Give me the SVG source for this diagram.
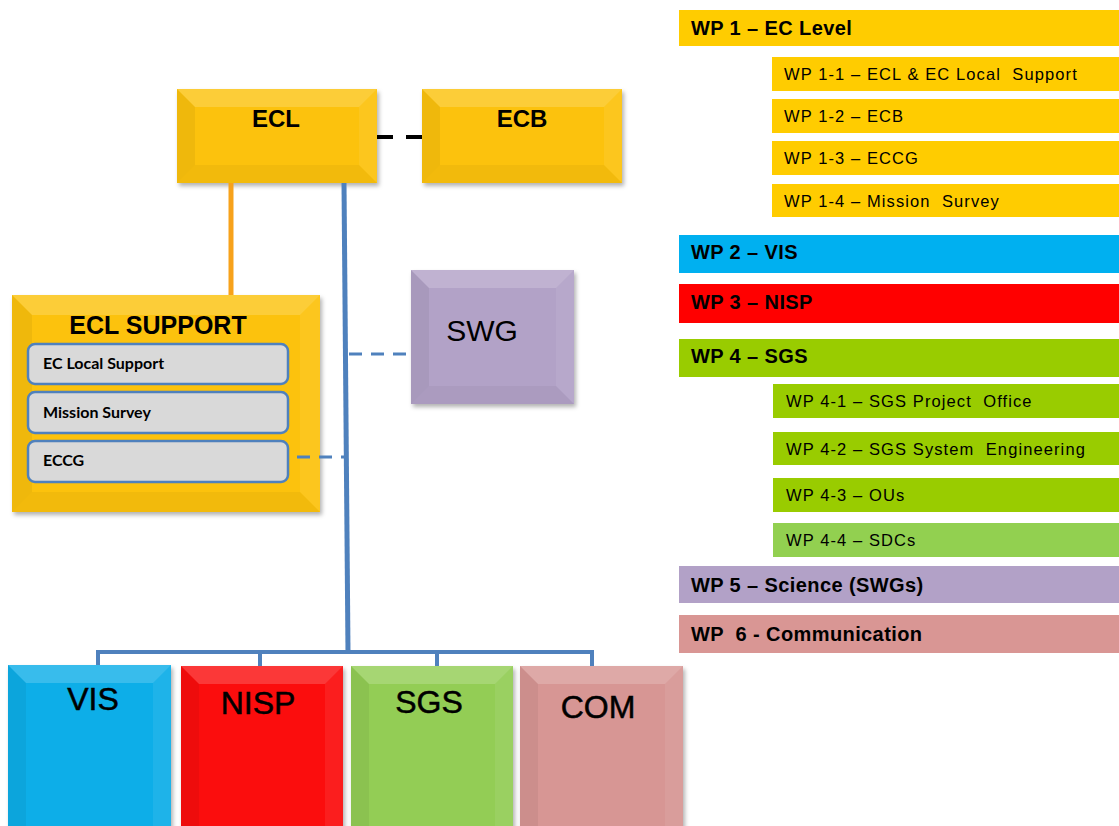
<svg xmlns="http://www.w3.org/2000/svg" width="1119" height="826" viewBox="0 0 1119 826">
  <defs>
    <filter id="shadow" x="-10%" y="-10%" width="125%" height="125%">
      <feDropShadow dx="2" dy="3" stdDeviation="2" flood-color="#000" flood-opacity="0.3"/>
    </filter>
    <style>
      .bt { fill: #fff; fill-opacity: 0.18; }
      .bl { fill: #000; fill-opacity: 0.05; }
      .br { fill: #fff; fill-opacity: 0.07; }
      .bb { fill: #000; fill-opacity: 0.04; }
      .base { filter: url(#shadow); }
      .lbl { font-family: "Liberation Sans", Arial, sans-serif; fill: #000; text-anchor: middle; }
      .big { font-size: 32px; stroke: #000; stroke-width: 0.5px; }
      .item { fill: #D9D9D9; stroke: #4F81BD; stroke-width: 2.5; }
      .itemtxt { font-family: Lato, "Liberation Sans", sans-serif; font-weight: bold; font-size: 16px; fill: #000; }
      .wp { font-family: "Liberation Sans", Arial, sans-serif; font-weight: bold; font-size: 20px; letter-spacing: 0.4px; fill: #000; }
      .wps { font-family: "Liberation Sans", Arial, sans-serif; font-size: 16.5px; letter-spacing: 1.1px; fill: #000; }
      .blue { stroke: #4F81BD; fill: none; }
    </style>
  </defs>
  <rect width="1119" height="826" fill="#fff"/>

  <!-- ECL -->
  <g id="ecl">
    <rect class="base" x="177" y="89" width="200" height="94" fill="#FCC20B"/>
    <polygon class="bt" points="177,89 377,89 359,107 195,107"/>
    <polygon class="bl" points="177,89 195,107 195,165 177,183"/>
    <polygon class="br" points="377,89 377,183 359,165 359,107"/>
    <polygon class="bb" points="177,183 195,165 359,165 377,183"/>
    <text class="lbl" x="276" y="127" font-size="24" font-weight="bold">ECL</text>
  </g>

  <!-- ECB -->
  <g id="ecb">
    <rect class="base" x="422" y="89" width="200" height="94" fill="#FCC20B"/>
    <polygon class="bt" points="422,89 622,89 604,107 440,107"/>
    <polygon class="bl" points="422,89 440,107 440,165 422,183"/>
    <polygon class="br" points="622,89 622,183 604,165 604,107"/>
    <polygon class="bb" points="422,183 440,165 604,165 622,183"/>
    <text class="lbl" x="522" y="127" font-size="24" font-weight="bold">ECB</text>
  </g>

  <!-- ECL SUPPORT -->
  <g id="ecl-support">
    <rect class="base" x="12" y="295" width="308" height="217" fill="#FCC20B"/>
    <polygon class="bt" points="12,295 320,295 300,315 32,315"/>
    <polygon class="bl" points="12,295 32,315 32,492 12,512"/>
    <polygon class="br" points="320,295 320,512 300,492 300,315"/>
    <polygon class="bb" points="12,512 32,492 300,492 320,512"/>
    <text class="lbl" x="158" y="334" font-size="25" font-weight="bold">ECL SUPPORT</text>
    <rect class="item" x="28" y="344" width="260" height="40" rx="7"/>
    <text class="itemtxt" x="43" y="369">EC Local Support</text>
    <rect class="item" x="28" y="392" width="260" height="41" rx="7"/>
    <text class="itemtxt" x="43" y="418">Mission Survey</text>
    <rect class="item" x="28" y="441" width="260" height="41" rx="7"/>
    <text class="itemtxt" x="43" y="466">ECCG</text>
  </g>

  <!-- SWG -->
  <g id="swg">
    <rect class="base" x="411" y="270" width="163" height="134" fill="#B2A2C7"/>
    <polygon class="bt" points="411,270 574,270 556,288 429,288"/>
    <polygon class="bl" points="411,270 429,288 429,386 411,404"/>
    <polygon class="br" points="574,270 574,404 556,386 556,288"/>
    <polygon class="bb" points="411,404 429,386 556,386 574,404"/>
    <text class="lbl" x="482" y="341" font-size="30">SWG</text>
  </g>

  <!-- VIS -->
  <g id="vis">
    <rect class="base" x="8" y="665" width="163" height="175" fill="#0AAEE8"/>
    <polygon class="bt" points="8,665 171,665 153,683 26,683"/>
    <polygon class="bl" points="8,665 26,683 26,826 8,826"/>
    <polygon class="br" points="171,665 171,826 153,826 153,683"/>
    <text class="lbl big" x="93" y="710">VIS</text>
  </g>

  <!-- NISP -->
  <g id="nisp">
    <rect class="base" x="181" y="666" width="162" height="175" fill="#FB0A0A"/>
    <polygon class="bt" points="181,666 343,666 325,684 199,684"/>
    <polygon class="bl" points="181,666 199,684 199,826 181,826"/>
    <polygon class="br" points="343,666 343,826 325,826 325,684"/>
    <text class="lbl big" x="258" y="714">NISP</text>
  </g>

  <!-- SGS -->
  <g id="sgs">
    <rect class="base" x="351" y="666" width="162" height="175" fill="#93CD55"/>
    <polygon class="bt" points="351,666 513,666 495,684 369,684"/>
    <polygon class="bl" points="351,666 369,684 369,826 351,826"/>
    <polygon class="br" points="513,666 513,826 495,826 495,684"/>
    <text class="lbl big" x="429" y="713">SGS</text>
  </g>

  <!-- COM -->
  <g id="com">
    <rect class="base" x="520" y="666" width="163" height="175" fill="#D79694"/>
    <polygon class="bt" points="520,666 683,666 665,684 538,684"/>
    <polygon class="bl" points="520,666 538,684 538,826 520,826"/>
    <polygon class="br" points="683,666 683,826 665,826 665,684"/>
    <text class="lbl big" x="598" y="718">COM</text>
  </g>

  <!-- connectors, drawn over the boxes -->
  <g id="connectors">
    <line x1="231" y1="183" x2="231" y2="295" stroke="#F7A21B" stroke-width="5"/>
    <line class="blue" x1="344" y1="183" x2="348" y2="652" stroke-width="5"/>
    <path class="blue" d="M98,665 V652 H592 V666 M260,652 V666 M437,652 V666" stroke-width="4"/>
    <line class="blue" x1="349" y1="354" x2="411" y2="354" stroke-width="3" stroke-dasharray="13 9"/>
    <line class="blue" x1="297" y1="457" x2="345" y2="457" stroke-width="3" stroke-dasharray="13 9"/>
    <line x1="377" y1="137" x2="422" y2="137" stroke="#000" stroke-width="4" stroke-dasharray="16 13"/>
  </g>

  <!-- work package list -->
  <g id="wp1">
    <rect x="679" y="10" width="440" height="36" fill="#FFCC00"/>
    <text class="wp" x="691" y="35">WP 1 – EC Level</text>
  </g>
  <g id="wp1-1">
    <rect x="772" y="57" width="347" height="34" fill="#FFCC00"/>
    <text class="wps" x="784" y="80" xml:space="preserve">WP 1-1 – ECL &amp; EC Local  Support</text>
  </g>
  <g id="wp1-2">
    <rect x="772" y="99" width="347" height="34" fill="#FFCC00"/>
    <text class="wps" x="784" y="122">WP 1-2 – ECB</text>
  </g>
  <g id="wp1-3">
    <rect x="772" y="141" width="347" height="34" fill="#FFCC00"/>
    <text class="wps" x="784" y="164">WP 1-3 – ECCG</text>
  </g>
  <g id="wp1-4">
    <rect x="772" y="184" width="347" height="33" fill="#FFCC00"/>
    <text class="wps" x="784" y="207" xml:space="preserve">WP 1-4 – Mission  Survey</text>
  </g>
  <g id="wp2">
    <rect x="679" y="235" width="440" height="38" fill="#00B0F0"/>
    <text class="wp" x="691" y="259">WP 2 – VIS</text>
  </g>
  <g id="wp3">
    <rect x="679" y="284" width="440" height="39" fill="#FF0000"/>
    <text class="wp" x="691" y="309">WP 3 – NISP</text>
  </g>
  <g id="wp4">
    <rect x="679" y="339" width="440" height="38" fill="#99CC00"/>
    <text class="wp" x="691" y="363">WP 4 – SGS</text>
  </g>
  <g id="wp4-1">
    <rect x="773" y="384" width="346" height="34" fill="#99CC00"/>
    <text class="wps" x="786" y="407" xml:space="preserve">WP 4-1 – SGS Project  Office</text>
  </g>
  <g id="wp4-2">
    <rect x="773" y="432" width="346" height="33" fill="#99CC00"/>
    <text class="wps" x="786" y="455" xml:space="preserve">WP 4-2 – SGS System  Engineering</text>
  </g>
  <g id="wp4-3">
    <rect x="773" y="478" width="346" height="34" fill="#99CC00"/>
    <text class="wps" x="786" y="501">WP 4-3 – OUs</text>
  </g>
  <g id="wp4-4">
    <rect x="773" y="523" width="346" height="34" fill="#92D050"/>
    <text class="wps" x="786" y="546">WP 4-4 – SDCs</text>
  </g>
  <g id="wp5">
    <rect x="679" y="566" width="440" height="37" fill="#B2A1C7"/>
    <text class="wp" x="691" y="592">WP 5 – Science (SWGs)</text>
  </g>
  <g id="wp6">
    <rect x="679" y="615" width="440" height="38" fill="#D99694"/>
    <text class="wp" x="691" y="641" xml:space="preserve">WP  6 - Communication</text>
  </g>
</svg>
